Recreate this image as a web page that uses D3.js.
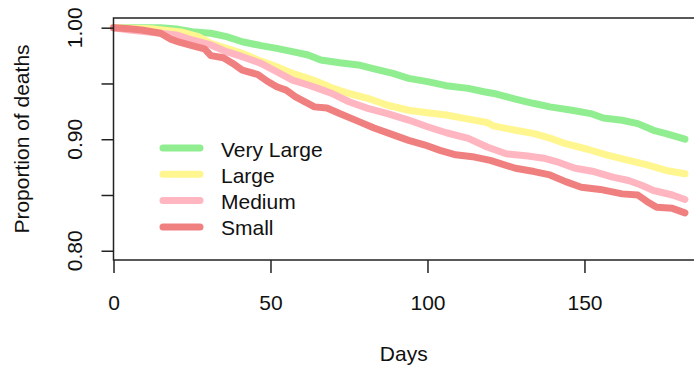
<!DOCTYPE html>
<html><head><meta charset="utf-8">
<script src="https://cdn.jsdelivr.net/npm/d3@7"></script>
<style>body{margin:0;background:#fff}svg{display:block;font-family:"Liberation Sans",Arial,sans-serif}</style>
</head><body><svg id="c" width="694" height="366"></svg>
<script>
const seriesNames = ["Very Large", "Large", "Medium", "Small"];
const seriesColors = ["#90EE90", "#FFF68F", "#FFB6C1", "#F08080"];

const daysVeryLarge = [0,15,20,25,31,36,41,47,52,57,62,66,72,78,83,89,94,100,106,113,118,122,128,134,139,146,152,156,162,167,172,176,182];
const valsVeryLarge = [1.000,1.000,0.9988,0.9964,0.995,0.992,0.9874,0.9839,0.9815,0.9785,0.9755,0.971,0.9686,0.9666,0.963,0.959,0.9546,0.9516,0.948,0.9456,0.9426,0.9405,0.936,0.932,0.929,0.926,0.923,0.919,0.917,0.914,0.908,0.905,0.900];

const daysLarge = [0,12,22,27,31,36,41,47,52,57,62,65,70,75,81,87,94,100,106,113,119,121,128,134,139,144,151,157,164,170,176,182];
const valsLarge = [1.000,0.999,0.9959,0.992,0.986,0.9815,0.977,0.970,0.965,0.959,0.9546,0.9516,0.9456,0.941,0.9367,0.9307,0.926,0.9238,0.9217,0.918,0.915,0.912,0.908,0.905,0.901,0.896,0.891,0.886,0.881,0.877,0.872,0.869];

const daysMedium = [0,5,9,15,20,25,31,36,41,47,52,57,62,66,70,75,81,87,94,100,106,113,119,125,132,137,141,147,153,159,164,168,172,178,182];
const valsMedium = [1.000,0.998,0.9967,0.995,0.9935,0.989,0.9845,0.9785,0.974,0.968,0.9605,0.953,0.9486,0.9447,0.9405,0.9336,0.9277,0.9232,0.9172,0.9112,0.9058,0.9008,0.893,0.887,0.885,0.883,0.880,0.874,0.871,0.866,0.863,0.859,0.854,0.850,0.846];

const daysSmall = [0,5,9,15,18,21,25,29,31,35,38,41,46,49,52,55,58,64,68,72,78,83,88,94,99,104,109,115,120,128,134,139,144,149,155,162,167,170,173,178,182];
const valsSmall = [1.000,0.999,0.998,0.995,0.990,0.987,0.984,0.981,0.975,0.973,0.968,0.962,0.958,0.952,0.947,0.944,0.938,0.929,0.928,0.923,0.916,0.910,0.905,0.899,0.895,0.890,0.886,0.884,0.881,0.874,0.871,0.868,0.862,0.857,0.855,0.851,0.850,0.844,0.839,0.838,0.834];

const xTicks = [0, 50, 100, 150];
const yTicks = [0.80, 0.85, 0.90, 0.95, 1.00];
const yTickLabels = ["0.80", "", "0.90", "", "1.00"];
const xTitle = "Days";
const yTitle = "Proportion of deaths";

const seriesDays = [daysVeryLarge, daysLarge, daysMedium, daysSmall];
const seriesVals = [valsVeryLarge, valsLarge, valsMedium, valsSmall];

const svg = d3.select("#c");
const L = 113.5, R = 697.5, T = 18, B = 260;
const x = d3.scaleLinear().domain([0, 186]).range([L, R]);
const y = d3.scaleLinear().domain([0.7917, 1.0087]).range([B, T]);
const FS = 21;

// data lines
const line = d3.line().x(d => x(d[0])).y(d => y(d[1]));
seriesNames.forEach((n, i) => {
  const pts = seriesDays[i].map((d, j) => [d, seriesVals[i][j]]);
  svg.append("path").datum(pts).attr("d", line)
    .attr("fill", "none").attr("stroke", seriesColors[i])
    .attr("stroke-width", 7).attr("stroke-linecap", "round").attr("stroke-linejoin", "round");
});

// box
svg.append("rect").attr("x", L).attr("y", T).attr("width", R - L).attr("height", B - T)
  .attr("fill", "none").attr("stroke", "#222").attr("stroke-width", 1.5);

// x axis
const gx = svg.append("g").attr("transform", `translate(0,${B})`)
  .call(d3.axisBottom(x).tickValues(xTicks).tickSize(13).tickSizeOuter(0).tickFormat(d3.format("d")));
gx.select(".domain").remove();
gx.selectAll(".tick line").attr("stroke", "#222").attr("stroke-width", 1.5);
gx.selectAll(".tick text").attr("font-size", FS).attr("font-family", "Liberation Sans, Arial, sans-serif")
  .attr("fill", "#111").attr("y", 35).attr("dy", "0.71em");

// y axis
const gy = svg.append("g").attr("transform", `translate(${L},0)`)
  .call(d3.axisLeft(y).tickValues(yTicks).tickSize(12).tickSizeOuter(0).tickFormat(""));
gy.select(".domain").remove();
gy.selectAll(".tick line").attr("stroke", "#222").attr("stroke-width", 1.5);
yTicks.forEach((v, i) => {
  if (!yTickLabels[i]) return;
  svg.append("text").attr("transform", `translate(82,${y(v)}) rotate(-90)`)
    .attr("text-anchor", "middle").attr("font-size", FS).attr("fill", "#111").text(yTickLabels[i]);
});

// titles
svg.append("text").attr("x", (L + 694) / 2).attr("y", 361).attr("text-anchor", "middle")
  .attr("font-size", FS).attr("fill", "#111").text(xTitle);
svg.append("text").attr("transform", `translate(28.5,${(T + B) / 2}) rotate(-90)`)
  .attr("text-anchor", "middle").attr("font-size", FS).attr("fill", "#111").text(yTitle);

// legend
const lg = svg.append("g");
seriesNames.forEach((n, i) => {
  const ly = 148 + i * 26.3;
  lg.append("line").attr("x1", 163).attr("x2", 200).attr("y1", ly).attr("y2", ly)
    .attr("stroke", seriesColors[i]).attr("stroke-width", 7).attr("stroke-linecap", "round");
  lg.append("text").attr("x", 221).attr("y", ly + 8.5).attr("font-size", FS).attr("fill", "#111").text(n);
});
</script></body></html>
